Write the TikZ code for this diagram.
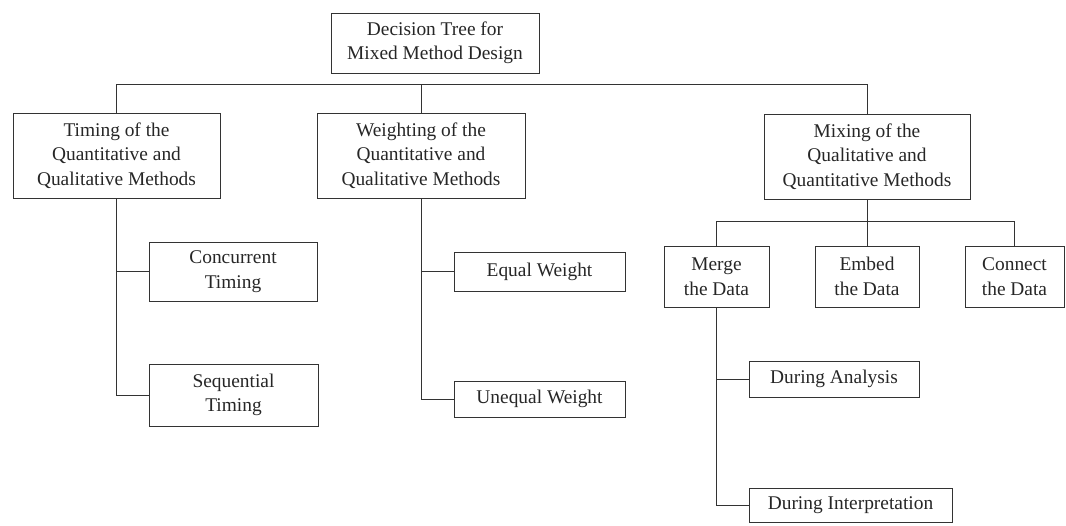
\documentclass[tikz,border=0pt]{standalone}
\usepackage{fontspec}
\setmainfont{Liberation Serif}
\begin{document}
\begin{tikzpicture}[x=1pt,y=-1pt,
  box/.style={draw=black!80, line width=1pt, align=center, inner sep=0pt,
    font=\fontsize{19.4}{24.5}\selectfont, text=black!85},
  link/.style={draw=black!80, line width=1pt}]
\useasboundingbox (0,0) rectangle (1066,525);
\node[box, minimum width=208pt, minimum height=60pt] (root) at (435,43) {Decision Tree for\\Mixed Method Design};
\node[box, minimum width=207pt, minimum height=85pt] (timing) at (116.5,155.5) {Timing of the\\Quantitative and\\Qualitative Methods};
\node[box, minimum width=208pt, minimum height=85pt] (weight) at (421,155.5) {Weighting of the\\Quantitative and\\Qualitative Methods};
\node[box, minimum width=206pt, minimum height=85pt] (mixing) at (867,156.5) {Mixing of the\\Qualitative and\\Quantitative Methods};
\node[box, minimum width=168pt, minimum height=59pt] (conc) at (233,271.5) {Concurrent\\Timing};
\node[box, minimum width=169pt, minimum height=62pt] (seq) at (233.5,395) {Sequential\\Timing};
\node[box, minimum width=171pt, minimum height=39pt] (equal) at (539.5,271.5) {Equal Weight};
\node[box, minimum width=171pt, minimum height=36pt] (unequal) at (539.5,399) {Unequal Weight};
\node[box, minimum width=105pt, minimum height=61pt] (merge) at (716.5,276.5) {Merge\\the Data};
\node[box, minimum width=104pt, minimum height=61pt] (embed) at (867,276.5) {Embed\\the Data};
\node[box, minimum width=99pt, minimum height=61pt] (connect) at (1014.5,276.5) {Connect\\the Data};
\node[box, minimum width=170pt, minimum height=36pt] (analysis) at (834,379) {During Analysis};
\node[box, minimum width=203pt, minimum height=34pt] (interp) at (850.5,505.5) {During Interpretation};
% level 1 bus
\draw[link] (timing.north) -- ++(0,-28) -| (mixing.north);
\draw[link] (weight.north) -- ++(0,-28);
% timing
\draw[link] (timing.south) |- (conc.west);
\draw[link] (timing.south) |- (seq.west);
% weighting
\draw[link] (weight.south) |- (equal.west);
\draw[link] (weight.south) |- (unequal.west);
% mixing
\draw[link] (merge.north) -- ++(0,-24) -| (connect.north);
\draw[link] (mixing.south) -- (embed.north);
% merge
\draw[link] (merge.south) |- (analysis.west);
\draw[link] (merge.south) |- (interp.west);
\end{tikzpicture}
\end{document}
